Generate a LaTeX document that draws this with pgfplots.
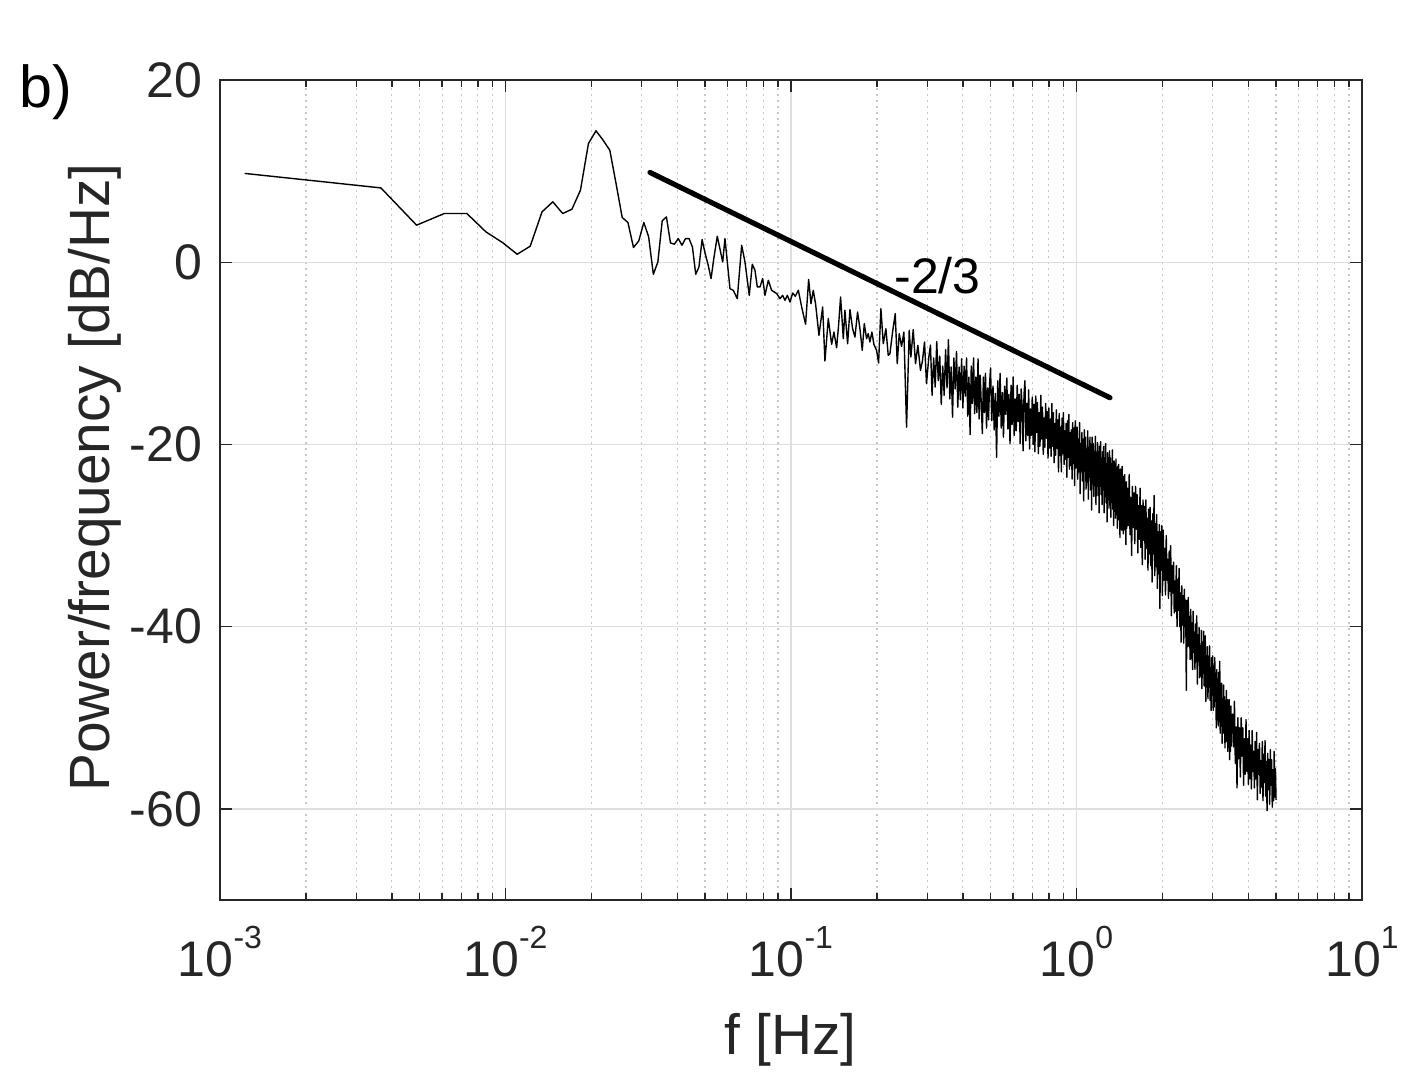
\documentclass[border=0pt]{standalone}
\usepackage{fontspec}
\setmainfont{Liberation Sans}
\usepackage{pgfplots}
\usepackage{pgfplotstable}
\pgfplotsset{compat=1.18}
\usetikzlibrary{calc}
\definecolor{axc}{gray}{0.15}
\definecolor{gridc}{gray}{0.87}
\definecolor{mgridc}{gray}{0.78}
\newcommand{\ticfont}{\fontsize{12.5}{15}\selectfont}
\newcommand{\labfont}{\fontsize{14.2}{17}\selectfont}
\newcommand{\xsup}[1]{\raisebox{7pt}{\fontsize{8}{9}\selectfont #1}}
\begin{document}
\pgfplotstableread{
f y
0.0012207 9.75
0.0024414 8.75
0.0036621 8.16
0.0048828 4.07
0.0061035 5.35
0.0073242 5.35
0.0085449 3.33
0.0097656 2.16
0.0109863 0.88
0.012207 1.76
0.0134277 5.53
0.0146484 6.63
0.0158691 5.35
0.0170898 5.82
0.0183105 7.91
0.0195313 13.04
0.020752 14.43
0.0219727 13.4
0.0231934 12.3
0.0244141 8.58
0.0256348 4.91
0.0268555 4.36
0.0280762 1.62
0.0292969 2.34
0.0305176 4.36
0.0317383 2.78
0.032959 -1.32
0.0341797 0.03
0.0354004 4.54
0.0366211 4.98
0.0378418 2.12
0.0390625 1.98
0.0402832 2.6
0.0415039 1.87
0.0427246 2.6
0.0439453 2.6
0.045166 1.68
0.0463867 -1.32
0.0476074 -0.51
0.0488281 2.49
0.0500488 0.95
0.0512695 -0.3
0.0524902 -1.79
0.0537109 0.5
0.05519 2.86
0.05765 0.03
0.05872 2.6
0.06114 -2.9
0.06279 -3.08
0.06485 -3.99
0.06719 1.87
0.06900 0.03
0.07144 -3.63
0.07319 -0.22
0.07480 -0.88
0.07620 -2.71
0.07788 -2.71
0.07960 -1.79
0.08108 -3.63
0.08327 -1.98
0.08558 -3.08
0.08911 -3.44
0.0915 -3.99
0.0935 -3.63
0.0953 -4.18
0.0971 -3.63
0.0992 -4.36
0.1014 -3.37
0.1035 -3.74
0.1061 -3.08
0.1090 -4.91
0.1125 -6.81
0.1153 -1.90
0.1175 -4.54
0.1197 -3.08
0.1220 -4.62
0.1253 -8.02
0.1291 -4.91
0.1315 -10.84
0.1351 -6.19
0.1388 -9.01
0.1414 -7.66
0.1445 -9.38
0.1468 -6.92
0.1492 -3.81
0.1525 -8.39
0.1545 -5.27
0.1579 -8.94
0.1609 -5.20
0.1644 -7.29
0.1675 -8.21
0.1711 -5.46
0.1744 -7.29
0.1777 -9.67
0.1806 -6.74
0.1840 -8.39
0.1865 -7.84
0.1890 -8.75
0.1921 -7.66
0.1952 -9.01
0.1995 -9.67
0.2027 -11.06
0.2065 -5.09
0.2105 -8.94
0.2150 -7.29
0.2191 -10.22
0.2221 -10.04
0.2269 -7.66
0.2318 -5.64
0.2356 -11.14
0.2394 -7.84
0.2439 -9.23
0.2486 -7.66
0.2540 -18.1
0.2595 -7.47
0.2630 -10.40
0.2680 -7.40
0.2730 -11.14
0.2782 -9.12
0.2842 -11.87
0.2889 -10.77
0.2936 -8.75
0.2983 -13.33
0.3040 -10.40
0.308 -9.1
0.312 -14.6
0.316 -10.5
0.320 -13.7
0.324 -8.7
0.328 -13.0
0.332 -10.3
0.336 -15.6
0.340 -11.4
0.344 -14.6
0.348 -9.6
0.352 -13.8
0.356 -8.5
0.360 -15.0
0.364 -11.5
0.368 -17.0
0.372 -10.5
0.376 -13.9
0.380 -9.8
0.384 -15.9
0.388 -11.5
0.392 -15.1
0.396 -10.6
0.400 -16.0
0.404 -11.4
0.408 -14.7
0.412 -10.5
0.416 -16.9
0.420 -12.6
0.424 -18.9
0.428 -11.4
0.432 -15.5
0.436 -10.5
0.440 -16.6
0.444 -12.6
0.448 -16.5
0.452 -10.6
0.456 -17.2
0.460 -12.4
0.464 -15.6
0.468 -18.8
0.472 -12.6
0.476 -16.5
0.480 -12.2
0.484 -18.2
0.488 -13.8
0.492 -17.3
0.496 -13.4
0.500 -11.6
0.505 -17.4
0.510 -13.6
0.515 -18.4
0.520 -14.4
0.525 -21.4
0.530 -13.0
0.535 -16.9
0.540 -12.2
0.545 -18.2
0.550 -14.3
0.555 -19.2
0.560 -13.6
0.565 -16.7
0.570 -12.7
0.575 -18.3
0.580 -14.5
0.585 -19.9
0.590 -13.5
0.595 -17.8
0.600 -12.6
0.605 -19.0
0.610 -15.0
0.615 -18.5
0.620 -13.5
0.625 -17.5
0.630 -14.5
0.635 -19.9
0.640 -13.9
0.645 -15.7
0.650 -20.7
0.655 -14.5
0.660 -13.0
0.665 -19.6
0.670 -15.5
0.675 -19.0
0.680 -14.0
0.685 -20.5
0.690 -16.1
0.695 -19.0
0.700 -14.8
0.705 -20.0
0.710 -15.6
0.715 -20.8
0.720 -14.7
0.725 -18.7
0.730 -15.4
0.735 -21.0
0.740 -16.5
0.745 -20.2
0.750 -14.6
0.755 -19.4
0.760 -15.9
0.765 -21.1
0.770 -17.1
0.775 -20.3
0.780 -15.5
0.785 -19.3
0.790 -16.4
0.795 -21.5
0.800 -16.0
0.805 -20.4
0.810 -17.2
0.815 -21.3
0.820 -15.5
0.825 -20.2
0.830 -16.5
0.835 -22.0
0.840 -17.7
0.845 -21.2
0.850 -16.2
0.855 -20.4
0.860 -17.3
0.865 -23.0
0.870 -16.6
0.875 -21.2
0.880 -18.1
0.885 -23.0
0.890 -17.1
0.895 -21.0
0.900 -16.5
0.905 -22.2
0.910 -18.5
0.915 -21.6
0.920 -17.7
0.925 -23.6
0.930 -17.4
0.935 -21.4
0.940 -16.7
0.945 -22.7
0.950 -18.7
0.955 -22.3
0.960 -18.4
0.965 -23.8
0.970 -17.6
0.975 -22.1
0.980 -18.2
0.985 -24.5
0.990 -17.4
0.995 -22.6
1.000 -19.1
1.005 -18.1
1.010 -23.8
1.015 -19.4
1.020 -23.0
1.025 -17.6
1.030 -25.4
1.035 -19.9
1.040 -22.9
1.045 -18.7
1.050 -24.0
1.055 -19.4
1.060 -26.2
1.065 -18.4
1.070 -22.9
1.075 -19.2
1.080 -24.9
1.085 -20.5
1.090 -24.1
1.095 -18.5
1.100 -26.0
1.105 -20.3
1.110 -23.6
1.115 -19.2
1.120 -25.0
1.125 -20.0
1.130 -27.2
1.135 -19.2
1.140 -23.5
1.145 -19.9
1.150 -25.7
1.155 -20.8
1.160 -24.5
1.165 -19.1
1.170 -26.6
1.175 -21.2
1.180 -24.6
1.185 -19.8
1.190 -25.6
1.195 -20.8
1.200 -27.5
1.205 -20.2
1.210 -24.5
1.215 -19.7
1.220 -25.5
1.225 -21.5
1.230 -26.6
1.235 -20.8
1.240 -25.0
1.245 -20.2
1.250 -27.5
1.255 -21.5
1.260 -25.5
1.265 -19.9
1.270 -26.4
1.275 -22.2
1.280 -28.5
1.285 -20.9
1.290 -25.3
1.295 -21.5
1.300 -27.0
1.305 -20.7
1.310 -25.3
1.315 -21.5
1.320 -28.0
1.325 -22.6
1.330 -26.2
1.335 -20.6
1.340 -27.1
1.345 -22.4
1.350 -28.9
1.355 -21.8
1.360 -26.1
1.365 -22.3
1.370 -28.1
1.375 -21.6
1.380 -26.8
1.385 -23.5
1.390 -29.2
1.395 -22.4
1.400 -27.0
1.405 -22.2
1.410 -28.3
1.415 -23.6
1.420 -30.2
1.425 -22.7
1.430 -26.9
1.435 -23.5
1.440 -29.4
1.445 -22.4
1.450 -28.1
1.455 -24.3
1.460 -29.8
1.465 -23.5
1.470 -28.6
1.475 -23.3
1.480 -29.4
1.485 -24.3
1.490 -31.0
1.495 -24.1
1.500 -29.2
1.51 -24.8
1.52 -28.9
1.53 -23.3
1.54 -29.9
1.55 -25.8
1.56 -32.2
1.57 -24.6
1.58 -29.1
1.59 -25.3
1.60 -30.9
1.61 -24.6
1.62 -29.3
1.63 -25.5
1.64 -31.9
1.65 -26.7
1.66 -30.4
1.67 -24.8
1.68 -31.3
1.69 -26.7
1.70 -33.2
1.71 -26.1
1.72 -30.5
1.73 -26.8
1.74 -32.6
1.75 -26.1
1.76 -31.4
1.77 -28.1
1.78 -33.8
1.79 -27.1
1.80 -32.0
1.81 -26.9
1.82 -33.3
1.83 -28.4
1.84 -35.1
1.85 -27.6
1.86 -32.0
1.87 -25.6
1.88 -34.4
1.89 -28.7
1.90 -33.4
1.91 -27.7
1.92 -35.8
1.93 -29.6
1.94 -34.2
1.95 -28.8
1.96 -38.0
1.97 -29.6
1.98 -33.8
1.99 -28.9
2.00 -36.6
2.0125 -29.4
2.025 -34.9
2.0375 -31.4
2.05 -36.5
2.0625 -30.0
2.075 -34.9
2.0875 -32.6
2.10 -36.9
2.1125 -31.7
2.125 -36.1
2.1375 -31.1
2.15 -38.8
2.1625 -33.3
2.175 -36.3
2.1875 -32.9
2.20 -38.5
2.2125 -35.0
2.225 -38.3
2.2375 -33.3
2.25 -40.0
2.2625 -34.8
2.275 -38.2
2.2875 -33.6
2.30 -40.0
2.3125 -36.3
2.325 -41.7
2.3375 -35.5
2.35 -39.8
2.3625 -36.6
2.375 -41.8
2.3875 -35.9
2.40 -40.0
2.4125 -37.1
2.425 -47.0
2.4375 -37.1
2.45 -42.2
2.4625 -36.8
2.475 -42.1
2.4875 -38.9
2.50 -43.6
2.5125 -38.1
2.525 -43.5
2.5375 -39.6
2.55 -44.7
2.5625 -38.3
2.575 -42.8
2.5875 -40.6
2.60 -44.7
2.6125 -39.7
2.625 -43.8
2.6375 -38.8
2.65 -46.3
2.6625 -40.9
2.675 -43.8
2.6875 -40.1
2.70 -45.6
2.7125 -42.1
2.725 -45.4
2.7375 -40.4
2.75 -46.8
2.7625 -41.7
2.775 -45.1
2.7875 -40.5
2.80 -46.5
2.8125 -42.8
2.825 -41.0
2.8375 -48.2
2.85 -43.2
2.8625 -46.6
2.875 -42.2
2.8875 -47.9
2.90 -43.3
2.9125 -46.6
2.925 -42.1
2.9375 -48.1
2.95 -44.5
2.9625 -49.2
2.975 -43.4
2.9875 -47.5
3.00 -43.2
3.0125 -49.2
3.025 -44.9
3.0375 -48.8
3.05 -43.4
3.0625 -48.1
3.075 -45.1
3.0875 -51.1
3.10 -44.7
3.1125 -49.2
3.125 -46.5
3.1375 -50.9
3.15 -45.0
3.1625 -50.3
3.175 -43.8
3.1875 -51.7
3.20 -47.0
3.2125 -50.2
3.225 -46.2
3.2375 -52.8
3.25 -47.9
3.2625 -51.7
3.275 -46.4
3.2875 -51.5
3.30 -47.7
3.3125 -53.3
3.325 -48.7
3.3375 -52.6
3.35 -47.0
3.3625 -51.6
3.375 -48.0
3.3875 -53.7
3.40 -49.1
3.4125 -52.8
3.425 -48.0
3.4375 -54.6
3.45 -50.0
3.4625 -53.7
3.475 -48.7
3.4875 -53.1
3.50 -49.7
3.525 -49.6
3.550 -53.2
3.575 -48.2
3.600 -55.0
3.625 -51.0
3.650 -57.7
3.675 -50.0
3.700 -54.5
3.725 -51.1
3.750 -56.5
3.775 -50.0
3.800 -54.2
3.825 -51.1
3.850 -57.4
3.875 -52.3
3.900 -56.2
3.925 -50.2
3.950 -55.9
3.975 -52.3
4.000 -57.3
4.025 -51.4
4.050 -56.7
4.075 -53.0
4.100 -57.8
4.125 -51.4
4.150 -55.9
4.175 -53.7
4.200 -57.7
4.225 -52.6
4.250 -56.7
4.275 -51.6
4.300 -59.0
4.325 -53.5
4.350 -56.2
4.375 -52.8
4.400 -58.3
4.425 -54.7
4.450 -57.6
4.475 -52.6
4.500 -59.1
4.525 -54.0
4.550 -57.1
4.575 -52.5
4.600 -58.6
4.625 -54.8
4.650 -60.2
4.675 -53.9
4.700 -57.9
4.725 -54.6
4.750 -59.5
4.775 -53.5
4.800 -57.4
4.825 -54.6
4.850 -59.8
4.875 -55.7
4.900 -59.1
4.925 -53.7
4.950 -58.7
4.975 -55.6
5.000 -59.0
}\psd
\begin{tikzpicture}
\begin{axis}[
  xmode=log,
  scale only axis,
  width=285.5pt, height=205pt,
  xmin=1e-3, xmax=10, ymin=-70, ymax=20,
  axis line style={draw=axc, line width=0.4pt},
  tick align=inside,
  major tick length=3pt, minor tick length=1.8pt,
  tick style={draw=axc, line width=0.35pt},
  xtick={0.001,0.01,0.1,1,10},
  xticklabels={10\xsup{-3},10\xsup{-2},10\xsup{-1},10\xsup{0},10\xsup{1}},
  minor xtick={0.002,0.003,0.004,0.005,0.006,0.007,0.008,0.009,0.02,0.03,0.04,0.05,0.06,0.07,0.08,0.09,0.2,0.3,0.4,0.5,0.6,0.7,0.8,0.9,2,3,4,5,6,7,8,9},
  ytick={-60,-40,-20,0,20},
  yticklabels={-60,-40,-20,0,20},
  xmajorgrids, xminorgrids, ymajorgrids,
  major grid style={draw=gridc, line width=0.35pt},
  minor grid style={draw=mgridc, line width=0.3pt, dash pattern=on 0.4pt off 1.1pt},
  xticklabel style={font=\ticfont, text=axc, inner sep=0pt, yshift=-6.3pt},
  yticklabel style={font=\ticfont, text=axc, inner sep=0pt, xshift=-4.25pt},
  xlabel={f [Hz]},
  ylabel={Power/frequency [dB/Hz]},
  xlabel style={font=\labfont, text=axc, inner sep=0pt, at={(axis description cs:0.4996,-0.188)}, anchor=base},
  ylabel style={font=\labfont, text=axc, inner sep=0pt, at={(axis description cs:-0.0858,0.515)}, anchor=south},
]
\addplot[black, line width=0.35pt, line join=round] table[x=f, y=y] {\psd};
\addplot[black, line width=1.3pt, line cap=round] coordinates {(0.03207,9.86) (1.310,-14.87)};
\node[font=\ticfont, anchor=base, inner sep=0pt] at (axis cs:0.326,-3.4) {-2/3};
\coordinate (SW) at (rel axis cs:0,0);
\end{axis}
\node[font=\fontsize{14.8}{17}\selectfont, anchor=base west, inner sep=0pt] at ($(SW)+(-50.25pt,198.25pt)$) {b)};
\pgfresetboundingbox
\path ($(SW)+(-55pt,-46.5pt)$) rectangle ($(SW)+(296.25pt,225pt)$);
\end{tikzpicture}
\end{document}
